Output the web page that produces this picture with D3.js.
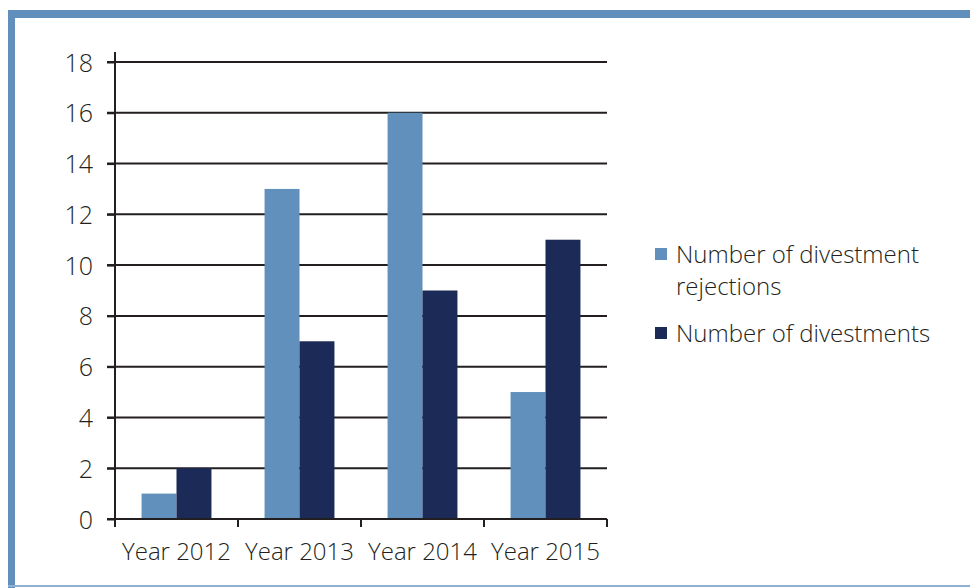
<!DOCTYPE html>
<html><head><meta charset="utf-8">
<script src="https://cdn.jsdelivr.net/npm/d3@7"></script>
<style>
html,body{margin:0;padding:0;background:#fff;}
svg{display:block;}
text{font-family:"Open Sans","Noto Sans",sans-serif;font-weight:300;fill:#231f20;}
</style></head>
<body>
<svg id="c" width="970" height="588"></svg>
<script>
const categories = ["Year 2012","Year 2013","Year 2014","Year 2015"];
const seriesNames = ["Number of divestment rejections","Number of divestments"];
const rejections = [1,13,16,5];
const divestments = [2,7,9,11];
const yTicks = [0,2,4,6,8,10,12,14,16,18];
const colors = ["#6090bb","#1c2a57"];

const svg = d3.select("#c");
// frame
svg.append("rect").attr("x",8).attr("y",10).attr("width",970).attr("height",8).attr("fill","#6090bb");
svg.append("rect").attr("x",8).attr("y",10).attr("width",7).attr("height",578).attr("fill","#6090bb");
svg.append("rect").attr("x",8).attr("y",585).attr("width",970).attr("height",2).attr("fill","#8fb0d0");

const x0 = d3.scaleBand().domain(categories).range([115,607]).paddingInner(0).paddingOuter(0);
const x1 = d3.scaleBand().domain([0,1]).range([0,x0.bandwidth()]).paddingInner(0).paddingOuter(0.76);
const y = d3.scaleLinear().domain([0,18]).range([519,62]);

// gridlines
svg.append("g").selectAll("line").data(yTicks.filter(d=>d>0)).join("line")
  .attr("x1",107).attr("x2",607).attr("y1",d=>y(d)).attr("y2",d=>y(d))
  .attr("stroke","#231f20").attr("stroke-width",2);

// bars
const data = categories.map((c,i)=>({c, v:[rejections[i],divestments[i]]}));
const g = svg.append("g").selectAll("g").data(data).join("g")
  .attr("transform",d=>`translate(${x0(d.c)},0)`);
g.selectAll("rect").data(d=>d.v.map((v,k)=>({v,k}))).join("rect")
  .attr("x",d=>x1(d.k)).attr("width",x1.bandwidth())
  .attr("y",d=>y(d.v)).attr("height",d=>y(0)-y(d.v))
  .attr("fill",d=>colors[d.k]);

// y axis
const yAxis = d3.axisLeft(y).tickValues(yTicks).tickSize(8).tickPadding(14);
const ya = svg.append("g").attr("transform","translate(115,0)").call(yAxis);
ya.select(".domain").attr("stroke","#231f20").attr("stroke-width",2).attr("d","M0,52V519");
ya.selectAll(".tick line").attr("stroke","#231f20").attr("stroke-width",2);
ya.selectAll("text").style("font-size","25px").style("font-family",'"Open Sans","Noto Sans",sans-serif').style("font-weight","300").attr("fill","#231f20").attr("dy","0.36em");

// x axis
const xa = svg.append("g").attr("transform","translate(0,519)");
xa.append("line").attr("x1",107).attr("x2",607).attr("y1",0).attr("y2",0).attr("stroke","#231f20").attr("stroke-width",2);
const bounds = categories.map(c=>x0(c)).concat([x0.range()[1]]);
xa.selectAll("line.tk").data(bounds).join("line").attr("class","tk")
  .attr("x1",d=>d).attr("x2",d=>d).attr("y1",0).attr("y2",8).attr("stroke","#231f20").attr("stroke-width",2);
xa.selectAll("text").data(categories).join("text")
  .attr("x",d=>x0(d)+x0.bandwidth()/2).attr("y",41).attr("text-anchor","middle")
  .style("font-size","24px").text(d=>d);

// legend
const leg = svg.append("g");
const legLines = [["Number of divestment","rejections"],["Number of divestments"]];
const legY = [263,342];
legLines.forEach((lines,i)=>{
  leg.append("rect").attr("x",655).attr("y",legY[i]-15).attr("width",12).attr("height",12).attr("fill",colors[i]);
  const t = leg.append("text").attr("x",676).attr("y",legY[i]).style("font-size","24px");
  lines.forEach((l,j)=>t.append("tspan").attr("x",676).attr("dy",j?32:0).text(l));
});
</script>
</body></html>
